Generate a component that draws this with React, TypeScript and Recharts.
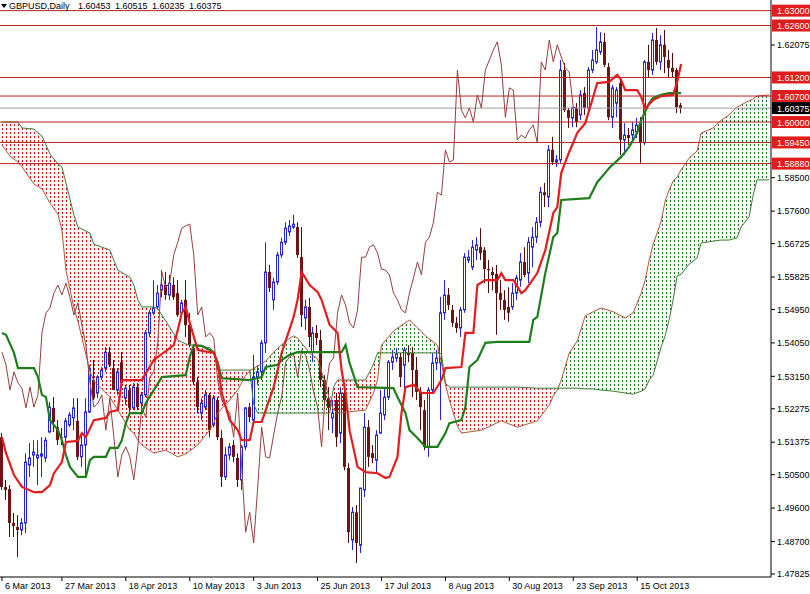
import React from 'react';
import { ComposedChart, Bar, Line, Area, XAxis, YAxis, ReferenceLine } from 'recharts';

const FONT = '"Liberation Sans", Arial, Helvetica, sans-serif';
const SYMBOL = 'GBPUSD';
const PERIOD = 'Daily';

// ---- daily candles ----
const opens = [
  1.5151, 1.5017, 1.5011, 1.4920, 1.4909, 1.4901, 1.4920, 1.5076, 1.5103, 1.5095,
  1.5100, 1.5095, 1.5165, 1.5230, 1.5178, 1.5151, 1.5151, 1.5184, 1.5203, 1.5195,
  1.5098, 1.5130, 1.5219, 1.5305, 1.5270, 1.5313, 1.5337, 1.5380, 1.5337, 1.5278,
  1.5353, 1.5256, 1.5278, 1.5230, 1.5286, 1.5243, 1.5265, 1.5432, 1.5486, 1.5502,
  1.5547, 1.5561, 1.5534, 1.5561, 1.5539, 1.5486, 1.5521, 1.5453, 1.5386, 1.5300,
  1.5216, 1.5232, 1.5265, 1.5184, 1.5251, 1.5149, 1.5044, 1.5103, 1.5130, 1.5095,
  1.5036, 1.5125, 1.5232, 1.5197, 1.5313, 1.5327, 1.5405, 1.5596, 1.5521, 1.5569,
  1.5642, 1.5676, 1.5704, 1.5717, 1.5717, 1.5636, 1.5472, 1.5502, 1.5380, 1.5432,
  1.5413, 1.5305, 1.5256, 1.5203, 1.5251, 1.5162, 1.5270, 1.5068, 1.4874, 1.4949,
  1.4860, 1.5009, 1.5178, 1.5108, 1.5089, 1.5162, 1.5211, 1.5259, 1.5353, 1.5364,
  1.5367, 1.5345, 1.5378, 1.5378, 1.5332, 1.5273, 1.5224, 1.5125, 1.5278, 1.5351,
  1.5351, 1.5486, 1.5534, 1.5494, 1.5459, 1.5445, 1.5494, 1.5628, 1.5609, 1.5655,
  1.5663, 1.5655, 1.5604, 1.5596, 1.5591, 1.5539, 1.5521, 1.5502, 1.5502, 1.5539,
  1.5574, 1.5623, 1.5593, 1.5663, 1.5690, 1.5730, 1.5811, 1.5798, 1.5925, 1.5892,
  1.5898, 1.6140, 1.6032, 1.6011, 1.6038, 1.6019, 1.6078, 1.6038, 1.6140, 1.6162,
  1.6189, 1.6216, 1.6148, 1.6013, 1.6051, 1.6105, 1.5952, 1.5965, 1.5965, 1.5973,
  1.5997, 1.5944, 1.6162, 1.6140, 1.6221, 1.6162, 1.6208, 1.6167, 1.6146, 1.6140,
  1.60453,
];
const highs = [
  1.5162, 1.5036, 1.5022, 1.4947, 1.4941, 1.4933, 1.5108, 1.5135, 1.5143, 1.5143,
  1.5151, 1.5151, 1.5246, 1.5259, 1.5197, 1.5176, 1.5203, 1.5219, 1.5256, 1.5256,
  1.5157, 1.5256, 1.5345, 1.5359, 1.5318, 1.5340, 1.5394, 1.5394, 1.5359, 1.5337,
  1.5380, 1.5292, 1.5292, 1.5297, 1.5297, 1.5273, 1.5440, 1.5494, 1.5574, 1.5561,
  1.5601, 1.5596, 1.5588, 1.5582, 1.5574, 1.5521, 1.5574, 1.5486, 1.5399, 1.5313,
  1.5256, 1.5278, 1.5270, 1.5265, 1.5259, 1.5170, 1.5125, 1.5135, 1.5143, 1.5108,
  1.5130, 1.5232, 1.5243, 1.5373, 1.5345, 1.5413, 1.5676, 1.5615, 1.5580, 1.5650,
  1.5688, 1.5730, 1.5736, 1.5750, 1.5730, 1.5717, 1.5521, 1.5526, 1.5448, 1.5453,
  1.5440, 1.5318, 1.5286, 1.5251, 1.5270, 1.5286, 1.5286, 1.5081, 1.4963, 1.4968,
  1.5014, 1.5216, 1.5197, 1.5130, 1.5170, 1.5278, 1.5286, 1.5359, 1.5386, 1.5391,
  1.5378, 1.5394, 1.5399, 1.5394, 1.5367, 1.5286, 1.5251, 1.5286, 1.5378, 1.5386,
  1.5529, 1.5574, 1.5553, 1.5507, 1.5475, 1.5502, 1.5647, 1.5655, 1.5682, 1.5690,
  1.5714, 1.5663, 1.5628, 1.5609, 1.5615, 1.5574, 1.5547, 1.5555, 1.5566, 1.5588,
  1.5647, 1.5663, 1.5690, 1.5717, 1.5744, 1.5825, 1.5836, 1.5938, 1.5960, 1.5911,
  1.6167, 1.6159, 1.6038, 1.6040, 1.6051, 1.6086, 1.6094, 1.6148, 1.6194, 1.6256,
  1.6242, 1.6240, 1.6159, 1.6100, 1.6094, 1.6113, 1.5997, 1.5984, 1.6000, 1.6011,
  1.6013, 1.6167, 1.6208, 1.6240, 1.6253, 1.6234, 1.6248, 1.6194, 1.6186, 1.6146,
  1.60515,
];
const lows = [
  1.5009, 1.4982, 1.4882, 1.4882, 1.4828, 1.4887, 1.4893, 1.5044, 1.5071, 1.5022,
  1.5044, 1.5084, 1.5162, 1.5165, 1.5130, 1.5130, 1.5125, 1.5178, 1.5170, 1.5089,
  1.5071, 1.5044, 1.5216, 1.5251, 1.5256, 1.5305, 1.5327, 1.5340, 1.5278, 1.5265,
  1.5286, 1.5238, 1.5219, 1.5224, 1.5224, 1.5230, 1.5259, 1.5421, 1.5480, 1.5494,
  1.5528, 1.5521, 1.5521, 1.5521, 1.5475, 1.5475, 1.5421, 1.5394, 1.5292, 1.5216,
  1.5197, 1.5224, 1.5151, 1.5178, 1.5143, 1.5017, 1.5036, 1.5089, 1.5084, 1.5017,
  1.5009, 1.5116, 1.5192, 1.5192, 1.5292, 1.5305, 1.5378, 1.5542, 1.5494, 1.5561,
  1.5634, 1.5669, 1.5693, 1.5712, 1.5634, 1.5448, 1.5440, 1.5394, 1.5353, 1.5399,
  1.5286, 1.5238, 1.5170, 1.5162, 1.5125, 1.5135, 1.5062, 1.4866, 1.4847, 1.4812,
  1.4839, 1.4990, 1.5071, 1.5081, 1.5054, 1.5162, 1.5197, 1.5251, 1.5332, 1.5353,
  1.5286, 1.5259, 1.5353, 1.5259, 1.5251, 1.5170, 1.5116, 1.5098, 1.5270, 1.5332,
  1.5197, 1.5467, 1.5494, 1.5448, 1.5432, 1.5421, 1.5486, 1.5620, 1.5601, 1.5628,
  1.5628, 1.5566, 1.5539, 1.5547, 1.5427, 1.5494, 1.5467, 1.5462, 1.5494, 1.5521,
  1.5556, 1.5582, 1.5566, 1.5609, 1.5674, 1.5717, 1.5771, 1.5771, 1.5884, 1.5879,
  1.5890, 1.6027, 1.5984, 1.5986, 1.5986, 1.6005, 1.6019, 1.6032, 1.6132, 1.6156,
  1.6181, 1.6148, 1.6005, 1.5984, 1.6013, 1.5911, 1.5911, 1.5938, 1.5952, 1.5957,
  1.5890, 1.5938, 1.6119, 1.6127, 1.6154, 1.6140, 1.6132, 1.6119, 1.6119, 1.6024,
  1.60235,
];
const closes = [
  1.5017, 1.5009, 1.4920, 1.4912, 1.4901, 1.4920, 1.5084, 1.5095, 1.5111, 1.5103,
  1.5106, 1.5143, 1.5232, 1.5192, 1.5143, 1.5149, 1.5195, 1.5211, 1.5230, 1.5098,
  1.5130, 1.5219, 1.5337, 1.5256, 1.5313, 1.5332, 1.5380, 1.5346, 1.5278, 1.5327,
  1.5297, 1.5283, 1.5230, 1.5286, 1.5232, 1.5265, 1.5432, 1.5486, 1.5499, 1.5539,
  1.5561, 1.5534, 1.5566, 1.5528, 1.5480, 1.5513, 1.5453, 1.5399, 1.5300, 1.5232,
  1.5243, 1.5265, 1.5170, 1.5256, 1.5151, 1.5044, 1.5103, 1.5125, 1.5098, 1.5036,
  1.5125, 1.5230, 1.5205, 1.5313, 1.5327, 1.5405, 1.5596, 1.5553, 1.5569, 1.5642,
  1.5676, 1.5714, 1.5720, 1.5725, 1.5642, 1.5480, 1.5502, 1.5421, 1.5432, 1.5418,
  1.5305, 1.5251, 1.5230, 1.5216, 1.5151, 1.5270, 1.5071, 1.4895, 1.4949, 1.4866,
  1.5014, 1.5178, 1.5098, 1.5095, 1.5157, 1.5216, 1.5259, 1.5353, 1.5367, 1.5375,
  1.5313, 1.5386, 1.5372, 1.5332, 1.5273, 1.5232, 1.5125, 1.5278, 1.5351, 1.5364,
  1.5486, 1.5534, 1.5507, 1.5459, 1.5445, 1.5494, 1.5636, 1.5636, 1.5663, 1.5669,
  1.5647, 1.5604, 1.5601, 1.5588, 1.5539, 1.5521, 1.5494, 1.5486, 1.5539, 1.5580,
  1.5623, 1.5588, 1.5676, 1.5690, 1.5730, 1.5811, 1.5803, 1.5925, 1.5892, 1.5898,
  1.6140, 1.6032, 1.6011, 1.6038, 1.6000, 1.6073, 1.6038, 1.6140, 1.6167, 1.6194,
  1.6216, 1.6154, 1.6013, 1.6092, 1.6086, 1.5952, 1.5965, 1.5957, 1.5979, 1.5992,
  1.5944, 1.6162, 1.6140, 1.6221, 1.6162, 1.6208, 1.6175, 1.6146, 1.6135, 1.6040,
  1.60375,
];

// ---- Ichimoku lines (vertices: bar index / price) ----
const tenkanIdx = [
  0, 1, 3, 5, 8, 10, 12, 13, 15, 16, 19, 20, 21, 23, 26, 27, 29, 30, 35, 38,
  43, 44, 45, 46, 47, 49, 53, 54, 55, 57, 59, 60, 62, 63, 65, 68, 70, 73, 74, 75,
  77, 79, 80, 82, 84, 85, 86, 87, 89, 91, 94, 96, 97, 99, 100, 101, 103, 105, 108, 110,
  111, 115, 116, 118, 119, 121, 124, 125, 126, 128, 130, 131, 134, 136, 138, 139, 140, 142, 143, 144,
  146, 147, 149, 152, 154, 155, 156, 159, 160, 161, 163, 165, 168, 169, 170,
];
const tenkanVal = [
  1.5151, 1.5108, 1.5049, 1.5017, 1.5003, 1.5003, 1.5022, 1.5054, 1.5084, 1.5138,
  1.5141, 1.5162, 1.5151, 1.5197, 1.5203, 1.5219, 1.5224, 1.5305, 1.5305, 1.5359,
  1.5399, 1.5440, 1.5486, 1.5502, 1.5459, 1.5386, 1.5378, 1.5351, 1.5270, 1.5197,
  1.5170, 1.5143, 1.5143, 1.5192, 1.5192, 1.5286, 1.5378, 1.5475, 1.5521, 1.5596,
  1.5561, 1.5542, 1.5521, 1.5454, 1.5432, 1.5332, 1.5270, 1.5170, 1.5071, 1.5057,
  1.5054, 1.5041, 1.5044, 1.5098, 1.5216, 1.5286, 1.5292, 1.5270, 1.5270, 1.5305,
  1.5337, 1.5340, 1.5432, 1.5432, 1.5561, 1.5574, 1.5574, 1.5593, 1.5574, 1.5574,
  1.5539, 1.5547, 1.5593, 1.5655, 1.5755, 1.5771, 1.5863, 1.5920, 1.5944, 1.5971,
  1.5997, 1.6032, 1.6105, 1.6108, 1.6127, 1.6113, 1.6086, 1.6086, 1.6068, 1.6036,
  1.6059, 1.6070, 1.6073, 1.6108, 1.6156,
];
const kijunIdx = [
  0, 1, 3, 4, 8, 9, 10, 11, 12, 14, 15, 16, 17, 19, 21, 22, 23, 26, 27, 29,
  30, 31, 32, 35, 36, 38, 40, 46, 47, 48, 50, 52, 53, 54, 55, 62, 65, 66, 69, 70,
  72, 74, 85, 86, 87, 89, 98, 99, 101, 102, 104, 106, 109, 111, 112, 115, 116, 117, 119, 121,
  124, 132, 133, 134, 136, 138, 139, 140, 147, 149, 151, 152, 155, 157, 159, 160, 162, 163, 165, 167,
  170,
];
const kijunVal = [
  1.5432, 1.5427, 1.5378, 1.5337, 1.5337, 1.5313, 1.5265, 1.5259, 1.5197, 1.5170,
  1.5143, 1.5103, 1.5071, 1.5044, 1.5044, 1.5089, 1.5098, 1.5098, 1.5122, 1.5122,
  1.5143, 1.5189, 1.5216, 1.5216, 1.5243, 1.5278, 1.5313, 1.5318, 1.5367, 1.5399,
  1.5397, 1.5386, 1.5380, 1.5351, 1.5310, 1.5305, 1.5313, 1.5340, 1.5346, 1.5359,
  1.5373, 1.5380, 1.5380, 1.5399, 1.5351, 1.5286, 1.5283, 1.5259, 1.5216, 1.5170,
  1.5149, 1.5125, 1.5125, 1.5162, 1.5189, 1.5197, 1.5232, 1.5340, 1.5359, 1.5405,
  1.5408, 1.5408, 1.5467, 1.5475, 1.5593, 1.5690, 1.5701, 1.5790, 1.5795, 1.5838,
  1.5863, 1.5876, 1.5906, 1.5933, 1.5971, 1.6005, 1.6051, 1.6065, 1.6073, 1.6078,
  1.6078,
];

// ---- Kumo (cloud) spans, displayed 26 bars ahead ----
const cloudIdx = [
  0, 2, 4, 5, 8, 10, 12, 14, 15, 16, 18, 19, 22, 23, 27, 29, 32, 33, 34, 35,
  38, 39, 41, 44, 46, 49, 52, 53, 54, 57, 59, 61, 62, 63, 64, 66, 68, 71, 73, 74,
  77, 79, 81, 82, 83, 84, 91, 93, 94, 95, 98, 102, 106, 109, 110, 111, 112, 114, 115, 120,
  125, 129, 134, 137, 138, 139, 140, 142, 144, 146, 148, 150, 153, 156, 158, 160, 161, 162, 163, 164,
  165, 166, 167, 168, 169, 170, 172, 174, 175, 178, 180, 182, 184, 185, 187, 188, 189, 192,
];
const spanA = [
  1.5938, 1.5908, 1.5892, 1.5879, 1.5833, 1.5820, 1.5782, 1.5752, 1.5709, 1.5601,
  1.5499, 1.5464, 1.5329, 1.5302, 1.5259, 1.5224, 1.5170, 1.5162, 1.5143, 1.5130,
  1.5108, 1.5111, 1.5116, 1.5098, 1.5106, 1.5130, 1.5170, 1.5189, 1.5216, 1.5251,
  1.5278, 1.5318, 1.5329, 1.5337, 1.5343, 1.5356, 1.5380, 1.5410, 1.5424, 1.5418,
  1.5378, 1.5362, 1.5294, 1.5251, 1.5224, 1.5216, 1.5224, 1.5270, 1.5305, 1.5399,
  1.5437, 1.5467, 1.5424, 1.5399, 1.5351, 1.5292, 1.5251, 1.5181, 1.5162, 1.5170,
  1.5195, 1.5178, 1.5195, 1.5238, 1.5262, 1.5278, 1.5305, 1.5378, 1.5410, 1.5478,
  1.5489, 1.5499, 1.5489, 1.5472, 1.5486, 1.5539, 1.5574, 1.5628, 1.5671, 1.5701,
  1.5733, 1.5787, 1.5817, 1.5841, 1.5852, 1.5871, 1.5903, 1.5922, 1.5970, 1.5984,
  1.6005, 1.6019, 1.6040, 1.6046, 1.6057, 1.6062, 1.6070, 1.6073,
];
const spanB = [
  1.6000, 1.6000, 1.6000, 1.5984, 1.5981, 1.5962, 1.5914, 1.5887, 1.5879, 1.5836,
  1.5750, 1.5717, 1.5701, 1.5671, 1.5655, 1.5601, 1.5582, 1.5561, 1.5521, 1.5502,
  1.5502, 1.5497, 1.5464, 1.5413, 1.5402, 1.5397, 1.5392, 1.5380, 1.5332, 1.5332,
  1.5332, 1.5332, 1.5332, 1.5240, 1.5216, 1.5216, 1.5216, 1.5216, 1.5216, 1.5216,
  1.5216, 1.5216, 1.5216, 1.5216, 1.5286, 1.5305, 1.5305, 1.5348, 1.5378, 1.5378,
  1.5378, 1.5378, 1.5378, 1.5378, 1.5375, 1.5297, 1.5286, 1.5286, 1.5286, 1.5286,
  1.5286, 1.5286, 1.5283, 1.5283, 1.5283, 1.5283, 1.5283, 1.5283, 1.5283, 1.5281,
  1.5281, 1.5278, 1.5275, 1.5270, 1.5267, 1.5275, 1.5281, 1.5305, 1.5318, 1.5356,
  1.5394, 1.5424, 1.5467, 1.5521, 1.5585, 1.5590, 1.5617, 1.5634, 1.5674, 1.5679,
  1.5682, 1.5682, 1.5688, 1.5717, 1.5744, 1.5801, 1.5844, 1.5844,
];

// ---- horizontal levels, axis ticks, dates ----
const levels = [1.63, 1.626, 1.612, 1.607, 1.6, 1.5945, 1.5888];
const lastPrice = 1.60375;
const priceTicks = [1.62075, 1.585, 1.576, 1.56725, 1.55825, 1.5495, 1.5405, 1.5315, 1.52275, 1.51375, 1.505, 1.496, 1.487, 1.47825];
const dateTickIdx = [0, 15, 31, 47, 63, 79, 95, 111, 127, 143, 159];
const dateLabels = ['6 Mar 2013', '27 Mar 2013', '18 Apr 2013', '10 May 2013', '3 Jun 2013', '25 Jun 2013', '17 Jul 2013', '8 Aug 2013', '30 Aug 2013', '23 Sep 2013', '15 Oct 2013'];
const SLOT_COUNT = 193;
const CHIKOU_SHIFT = 26;
const Y_DOMAIN: [number, number] = [1.47744, 1.63287];

// ---- build table ----
const rows: any[] = Array.from({ length: SLOT_COUNT }, (_, i) => {
  const r: any = { idx: i };
  if (i < closes.length) {
    r.range = [lows[i], highs[i]];
    r.open = opens[i];
    r.high = highs[i];
    r.low = lows[i];
    r.close = closes[i];
  }
  if (i + CHIKOU_SHIFT < closes.length) r.chikou = closes[i + CHIKOU_SHIFT];
  return r;
});
tenkanIdx.forEach((ix, k) => { rows[ix].tenkan = tenkanVal[k]; });
kijunIdx.forEach((ix, k) => { rows[ix].kijun = kijunVal[k]; });
cloudIdx.forEach((ix, k) => { rows[ix].spanA = spanA[k]; rows[ix].spanB = spanB[k]; });

type Seg = { key: string; bull: boolean; ks: number[] };
const segments: Seg[] = [];
spanA.forEach((a, k) => {
  const bull = a > spanB[k];
  const last = segments[segments.length - 1];
  if (!last || last.bull !== bull) {
    segments.push({ key: `cloud${segments.length}`, bull, ks: k > 0 ? [k - 1, k] : [k] });
  } else {
    last.ks.push(k);
  }
});
segments.forEach((s) => {
  s.ks.forEach((k) => {
    rows[cloudIdx[k]][s.key] = [Math.min(spanA[k], spanB[k]), Math.max(spanA[k], spanB[k])];
  });
});

const Candle = (props: any) => {
  const { x, y, width, height, payload } = props;
  if (!payload || payload.open == null || x == null) return null;
  const { open, close, high, low } = payload;
  const top = Math.min(y, y + height);
  const bot = Math.max(y, y + height);
  const span = high - low;
  const toY = (p: number) => (span > 0 ? top + ((high - p) / span) * (bot - top) : top);
  const cx = Math.round(x + width / 2) - 0.5;
  const yo = toY(open);
  const yc = toY(close);
  const bTop = Math.min(yo, yc);
  const bH = Math.max(1, Math.abs(yc - yo));
  const bull = close >= open;
  if (bull) {
    return (
      <g>
        <line x1={cx} x2={cx} y1={top} y2={bot} stroke="#2424d8" strokeWidth={1} />
        <rect x={cx - 1} y={bTop} width={2} height={bH} fill="#ffffff" stroke="#2424d8" strokeWidth={1} />
      </g>
    );
  }
  return (
    <g>
      <line x1={cx} x2={cx} y1={top} y2={bot} stroke="#4a0c0c" strokeWidth={1} />
      <rect x={cx - 1.5} y={bTop} width={3} height={bH} fill="#6e1414" />
    </g>
  );
};

const DateTick = (props: any) => {
  const { x, y, payload } = props;
  const k = dateTickIdx.indexOf(payload?.value);
  if (k < 0) return null;
  return (
    <g>
      <line x1={x} x2={x} y1={y} y2={y + 4} stroke="#000" />
      <text x={x + 3} y={y + 12} fontSize={9} fontFamily={FONT} fill="#000">{dateLabels[k]}</text>
    </g>
  );
};

const PriceBox = (props: any) => {
  const { viewBox, text, bg } = props;
  if (!viewBox) return null;
  const left = viewBox.x + viewBox.width + 1;
  const cy = viewBox.y;
  return (
    <g>
      <rect x={left} y={cy - 6} width={38} height={12} fill={bg} />
      <text x={left + 5} y={cy + 3.5} fontSize={9} fontFamily={FONT} fill="#ffffff">{text}</text>
    </g>
  );
};

const lastOHLC = [opens, highs, lows, closes].map((arr) => arr[arr.length - 1]);

export default function App() {
  return (
    <div style={{ position: 'absolute', left: 0, top: 0, width: 810, height: 594, background: '#fff' }}>
      <ComposedChart width={810} height={594} data={rows} margin={{ top: 0, right: 0, bottom: 0, left: 0 }}>
        <defs>
          <pattern id="hatchR" width="4" height="4" patternUnits="userSpaceOnUse">
            <rect width="4" height="4" fill="#fff8f8" />
            <rect x="2" y="0" width="1" height="2" fill="#c01818" />
          </pattern>
          <pattern id="hatchG" width="4" height="4" patternUnits="userSpaceOnUse">
            <rect width="4" height="4" fill="#f7fbf6" />
            <rect x="2" y="0" width="1" height="2" fill="#1c6e1c" />
          </pattern>
        </defs>
        <XAxis
          dataKey="idx"
          type="category"
          ticks={dateTickIdx}
          interval={0}
          tickLine={false}
          tickSize={0}
          tickMargin={0}
          axisLine={{ stroke: '#000' }}
          height={17}
          tick={<DateTick />}
        />
        <YAxis
          orientation="right"
          width={39}
          type="number"
          domain={Y_DOMAIN}
          allowDataOverflow
          ticks={priceTicks}
          interval={0}
          tickFormatter={(v: number) => v.toFixed(5)}
          tick={{ fontSize: 9, fill: '#000', fontFamily: FONT }}
          tickLine={{ stroke: '#000' }}
          axisLine={{ stroke: '#000' }}
          tickSize={4}
          tickMargin={2}
        />
        {segments.map((s) => (
          <Area
            key={s.key}
            dataKey={s.key}
            type="linear"
            connectNulls
            stroke="none"
            fill={s.bull ? 'url(#hatchG)' : 'url(#hatchR)'}
            fillOpacity={1}
            dot={false}
            activeDot={false}
            isAnimationActive={false}
          />
        ))}
        <Line dataKey="spanA" type="linear" connectNulls stroke="#b0583a" strokeWidth={1} dot={false} activeDot={false} isAnimationActive={false} />
        <Line dataKey="spanB" type="linear" connectNulls stroke="#3f7d35" strokeWidth={1} dot={false} activeDot={false} isAnimationActive={false} />
        {levels.map((lv) => (
          <ReferenceLine key={lv} y={lv} stroke="#b42222" strokeWidth={1} label={<PriceBox text={lv.toFixed(5)} bg="#e01c1c" />} />
        ))}
        <ReferenceLine y={lastPrice} stroke="#9a9a9a" strokeWidth={1} label={<PriceBox text={lastPrice.toFixed(5)} bg="#000000" />} />
        <Line dataKey="chikou" type="linear" stroke="#934040" strokeWidth={1} dot={false} activeDot={false} isAnimationActive={false} />
        <Bar dataKey="range" shape={(p: any) => <Candle {...p} />} isAnimationActive={false} />
        <Line dataKey="kijun" type="linear" connectNulls stroke="#1c7f1c" strokeWidth={2.2} dot={false} activeDot={false} isAnimationActive={false} />
        <Line dataKey="tenkan" type="linear" connectNulls stroke="#e21e1e" strokeWidth={2.2} dot={false} activeDot={false} isAnimationActive={false} />
      </ComposedChart>
      <svg width={810} height={16} style={{ position: 'absolute', left: 0, top: 0 }}>
        <polygon points="1,4 7,4 4,8" fill="#000" />
        <text x={9} y={9} fontSize={9} fontFamily={FONT} fill="#000">{`${SYMBOL},${PERIOD}`}</text>
        {lastOHLC.map((v, k) => (
          <text key={k} x={78 + 37 * k} y={9} fontSize={9} fontFamily={FONT} fill="#000">{v.toFixed(5)}</text>
        ))}
      </svg>
    </div>
  );
}
